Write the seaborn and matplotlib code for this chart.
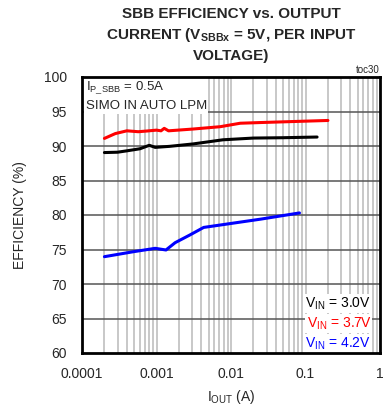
import numpy as np
import pandas as pd
import matplotlib
matplotlib.use("Agg")
import matplotlib.pyplot as plt
import seaborn as sns
from matplotlib.ticker import NullFormatter, FixedLocator

# data
iout_30 = [0.0002, 0.0003, 0.0004, 0.0006, 0.0008, 0.00096, 0.0015, 0.0031, 0.0078, 0.02, 0.05, 0.143]
eff_30 = [89.05, 89.1, 89.3, 89.6, 90.1, 89.8, 89.95, 90.3, 90.9, 91.15, 91.2, 91.3]

iout_37 = [0.0002, 0.00028, 0.0004, 0.00057, 0.00074, 0.001, 0.00115, 0.00127, 0.00145, 0.0031, 0.0072, 0.0133, 0.025, 0.07, 0.2]
eff_37 = [91.1, 91.8, 92.2, 92.07, 92.17, 92.3, 92.2, 92.56, 92.2, 92.46, 92.8, 93.3, 93.4, 93.55, 93.7]

iout_42 = [0.0002, 0.00049, 0.00096, 0.00134, 0.00178, 0.0028, 0.0043, 0.0072, 0.025, 0.083]
eff_42 = [73.96, 74.68, 75.17, 74.93, 75.99, 77.1, 78.2, 78.55, 79.4, 80.3]

vin_labels = ["3.0V", "3.7V", "4.2V"]
vin_colors = ["black", "#ff0000", "#0000ff"]

df = pd.concat([
    pd.DataFrame({"iout": iout_30, "eff": eff_30, "vin": "3.0V"}),
    pd.DataFrame({"iout": iout_37, "eff": eff_37, "vin": "3.7V"}),
    pd.DataFrame({"iout": iout_42, "eff": eff_42, "vin": "4.2V"}),
])

sns.set_style("white")
plt.rcParams["font.family"] = ["Liberation Sans", "DejaVu Sans"]
plt.rcParams["mathtext.fontset"] = "custom"
plt.rcParams["mathtext.rm"] = "Liberation Sans"
plt.rcParams["mathtext.it"] = "Liberation Sans:italic"
plt.rcParams["mathtext.bf"] = "Liberation Sans:bold"

fig = plt.figure(figsize=(3.86, 4.13), dpi=100)
ax = fig.add_axes([82 / 386, 60 / 413, 298 / 386, 276 / 413])

# grid: light vertical lines at every log step, darker horizontal lines
for dec in [1e-4, 1e-3, 1e-2, 1e-1]:
    for m in range(1, 10):
        ax.axvline(dec * m, color="#c4c4c4", lw=1.3, zorder=0)
for yv in range(65, 100, 5):
    ax.axhline(yv, color="#555555", lw=1.1, zorder=0.5)

sns.lineplot(data=df, x="iout", y="eff", hue="vin", hue_order=vin_labels,
             palette=vin_colors, lw=2.2, legend=False, ax=ax, zorder=3)

ax.set_xscale("log")
ax.set_xlim(1e-4, 1)
ax.set_ylim(60, 100)
ax.xaxis.set_major_locator(FixedLocator([1e-4, 1e-3, 1e-2, 1e-1, 1]))
ax.set_xticklabels(["0.0001", "0.001", "0.01", "0.1", "1"])
ax.xaxis.set_minor_formatter(NullFormatter())
ax.set_yticks(range(60, 101, 5))
ax.tick_params(axis="both", which="both", length=0, labelsize=10)
ax.tick_params(axis="x", pad=10)
ax.tick_params(axis="y", pad=11)
for s in ax.spines.values():
    s.set_linewidth(2)
    s.set_color("black")
    s.set_zorder(5)

ax.set_xlabel(r"I$_\mathrm{OUT}$ (A)", fontsize=10, labelpad=5)
ax.set_ylabel("EFFICIENCY (%)", fontsize=10, labelpad=12)

ax.set_title("SBB EFFICIENCY vs. OUTPUT\n" + r"CURRENT (V$_\mathbf{SBBx}$ = 5V, PER INPUT" + "\nVOLTAGE)",
             fontsize=11, fontweight="bold", pad=12, linespacing=1.45)
ax.text(1.0, 1.008, "toc30", transform=ax.transAxes, ha="right", va="bottom", fontsize=7)

box = dict(facecolor="white", edgecolor="none", pad=1)
ax.text(0.012, 0.99, r"I$_\mathrm{P\_SBB}$ = 0.5A" + "\nSIMO IN AUTO LPM", transform=ax.transAxes,
        ha="left", va="top", fontsize=9.5, linespacing=1.45, bbox=box, zorder=4)
for i, (lab, col) in enumerate(zip(vin_labels, vin_colors)):
    ax.text(0.97, 0.18 - i * 0.073, r"V$_\mathrm{IN}$ = " + lab, transform=ax.transAxes,
            ha="right", va="center", fontsize=10, color=col, bbox=box, zorder=4)

fig.savefig("out.png", dpi=100)
